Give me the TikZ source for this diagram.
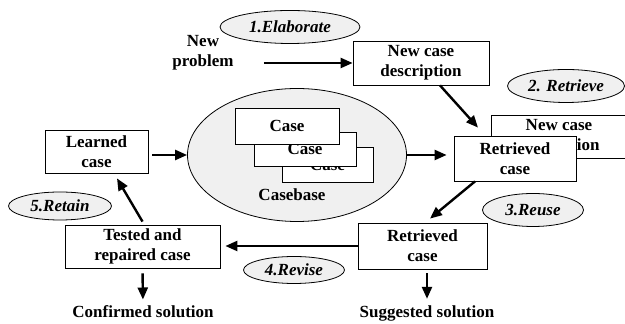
\documentclass[tikz,border=0pt]{standalone}
\usepackage{fontspec}
\setmainfont{Liberation Serif}
\usetikzlibrary{arrows.meta, shapes.geometric}

\begin{document}
\begin{tikzpicture}[x=0.5pt, y=-0.5pt, font=\fontsize{8.5}{10}\selectfont\bfseries,
    box/.style={draw, fill=white, align=center, inner sep=0pt},
    stage/.style={ellipse, draw, fill=gray!12, inner sep=0pt, font=\fontsize{8.5}{10}\selectfont\bfseries\itshape},
    arr/.style={-{Triangle[length=6pt, width=5pt]}, line width=1.2pt}]
  \useasboundingbox (0,0) rectangle (625,324);

  % Casebase with stacked cases
  \node[ellipse, draw, fill=gray!12, minimum width=109.5pt, minimum height=66.5pt] (casebase) at (297,155) {};
  \node[box, minimum width=45.5pt, minimum height=17.5pt] (case3) at (327.5,164.5) {Case};
  \node[box, minimum width=51pt, minimum height=17pt] (case2) at (305,149) {Case};
  \node[box, minimum width=52pt, minimum height=18pt] (case1) at (287,126) {Case};
  \node (cbname) at (292,195) {Casebase};

  % Cycle boxes
  \node[align=center, inner sep=0pt] (newprob) at (203,53) {New\\problem};
  \node[box, minimum width=68pt, minimum height=22pt] (newcase) at (421,63) {New case\\description};
  \node[box, minimum width=68pt, minimum height=21.5pt] (newcaseb) at (559,136.5) {New case\\description};
  \node[box, minimum width=61pt, minimum height=22.5pt] (retf) at (515,158.5) {Retrieved\\case};
  \node[box, minimum width=64.5pt, minimum height=23pt] (retb) at (422.5,246) {Retrieved\\case};
  \node[box, minimum width=77.5pt, minimum height=21.5pt] (tested) at (142.5,246.5) {Tested and\\repaired case};
  \node[box, minimum width=51.5pt, minimum height=21.5pt] (learned) at (96.5,151.5) {Learned\\case};
  \node[inner sep=0pt] (sugg) at (427,313) {Suggested solution};
  \node[inner sep=0pt] (confirm) at (143,312) {Confirmed solution};

  % Stage labels
  \node[stage, minimum width=70pt, minimum height=16.5pt] (elab) at (290,27) {1.Elaborate};
  \node[stage, minimum width=58.5pt, minimum height=16.5pt] (retrieve) at (566,86) {2. Retrieve};
  \node[stage, minimum width=50.5pt, minimum height=16.5pt] (reuse) at (533,210) {3.Reuse};
  \node[stage, minimum width=50.5pt, minimum height=13.5pt] (revise) at (294,270) {4.Revise};
  \node[stage, minimum width=51.5pt, minimum height=14pt] (retain) at (60,206) {5.Retain};

  % Connectors
  \draw[arr] ([xshift=15pt]newprob.east |- newcase.west) -- (newcase.west);
  \draw[arr] ([xshift=9.5pt]newcase.south) -- ([xshift=-18.5pt, yshift=4pt]retf.north);
  \draw[arr, shorten >=3.5pt] (casebase.east) -- (casebase.east -| retf.west);
  \draw[arr, shorten <=2pt] (learned.east |- casebase.west) -- (casebase.west);
  \draw[arr] ([xshift=-20pt]retf.south) -- ([xshift=3.75pt, yshift=2pt]retb.north);
  \draw[arr, shorten >=2.5pt] (retb.west) -- (retb.west -| tested.east);
  \draw[arr] ([yshift=1.5pt]tested.north) -- ([xshift=10.25pt, yshift=-2.5pt]learned.south);
  \draw[arr, shorten <=2.5pt, shorten >=3pt] (tested.south) -- (confirm.north);
  \draw[arr, shorten <=2pt, shorten >=3pt] (retb.south -| sugg.north) -- (sugg.north);
\end{tikzpicture}
\end{document}
